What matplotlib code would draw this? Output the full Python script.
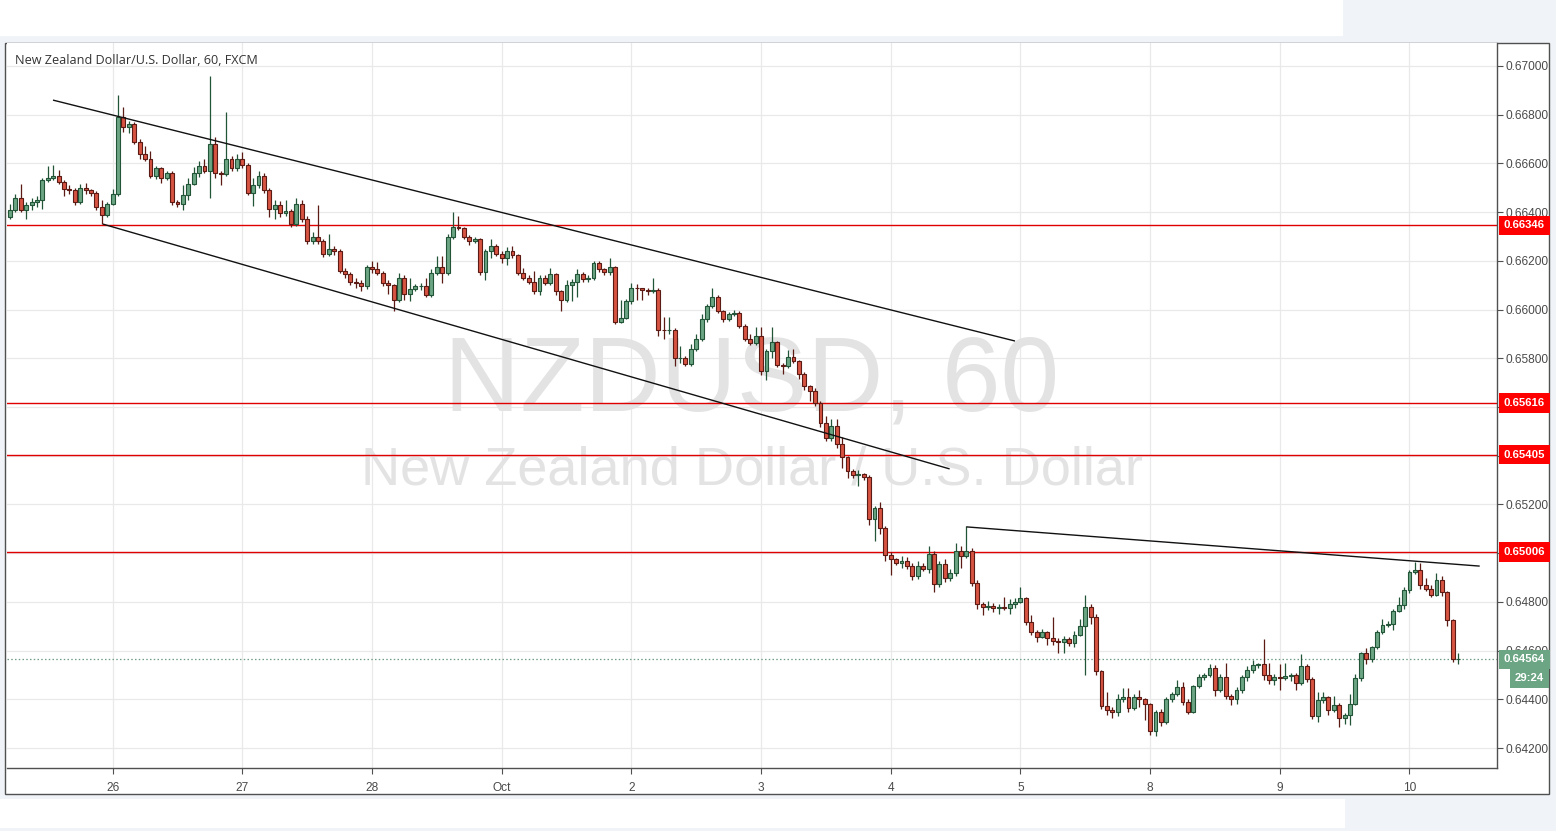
import matplotlib
matplotlib.use("Agg")
import matplotlib.pyplot as plt
import matplotlib.transforms as mtransforms
from matplotlib.patches import Rectangle

# ---------------- data (prices in pips, i.e. units of 0.0001) ----------------
opens = [
6638, 6641, 6646, 6641, 6643, 6644, 6645, 6653.4, 6654, 6655,
6652.5, 6649.6, 6649, 6644, 6650, 6649, 6648, 6642, 6639, 6643.5,
6647.5, 6679, 6675, 6676, 6669, 6664, 6662, 6655, 6658, 6654,
6656, 6644, 6643.5, 6647, 6651.6, 6656, 6659, 6657, 6668, 6656,
6655.5, 6662, 6658, 6662, 6659.5, 6648, 6651, 6655, 6649, 6641.5,
6643, 6639.5, 6640.5, 6635, 6643.5, 6637, 6628, 6630, 6628, 6623,
6625, 6624, 6616, 6614.6, 6611.5, 6611, 6609.5, 6617.4, 6616.5, 6615,
6611, 6610, 6604, 6613, 6606.5, 6608.5, 6609.5, 6609.5, 6606, 6615,
6617.4, 6615, 6630, 6634, 6633.3, 6630, 6628, 6629, 6615.6, 6624,
6626, 6623, 6621, 6624, 6622.5, 6615, 6613, 6611.5, 6607.5, 6613,
6611, 6614.7, 6607.5, 6604, 6610, 6611.5, 6614.7, 6612.5, 6613, 6619,
6616.6, 6615.6, 6617.4, 6595, 6596.5, 6603.4, 6609, 6608.7, 6608, 6607.7,
6608, 6591.8, 6591.5, 6591.8, 6580, 6580, 6577.7, 6584, 6588, 6596,
6601.3, 6605, 6599.3, 6596, 6598, 6598.5, 6593.4, 6588, 6586.3, 6589,
6574.7, 6583, 6586.6, 6577.4, 6577, 6580.4, 6578.8, 6573.7, 6568.8, 6566.4,
6561.6, 6553.4, 6547.3, 6552.3, 6545, 6539.5, 6533.6, 6532.2, 6532.5, 6531.2,
6514, 6518.5, 6510.3, 6499.3, 6497.5, 6496, 6497, 6494.8, 6490.7, 6494.8,
6493.4, 6499.7, 6487.4, 6495.6, 6489.7, 6492, 6500.7, 6499, 6500.7, 6487.7,
6479, 6478, 6478.5, 6477.5, 6478, 6477.4, 6479, 6480, 6481.5, 6471.7,
6467.6, 6465.8, 6467.6, 6465, 6463.8, 6463.4, 6464.7, 6463, 6466.5, 6470.2,
6477.8, 6473.7, 6451.5, 6437.4, 6435.8, 6434.7, 6440, 6441, 6436.5, 6440.8,
6440, 6438, 6427, 6434.7, 6430.6, 6440, 6442, 6445, 6439, 6435,
6445.3, 6449, 6449.8, 6453, 6443.7, 6449, 6441.3, 6440, 6444, 6449,
6452, 6454, 6454.4, 6450, 6448, 6449.3, 6448.6, 6449.5, 6450, 6446.6,
6453.7, 6448.2, 6433.2, 6439.8, 6440.8, 6435.7, 6437.7, 6432.3, 6433.6, 6438.1,
6448.6, 6458.9, 6456.4, 6461.3, 6467.7, 6470.4, 6470.9, 6476.2, 6478.6, 6485,
6492.3, 6493.2, 6486.8, 6485.5, 6483, 6489.1, 6484.1, 6472.5, 6456.4,
]
highs = [
6643.4, 6647.5, 6651.6, 6644, 6646, 6646.5, 6654, 6659, 6659.5, 6657.5,
6653, 6651, 6650, 6651.6, 6652, 6649.5, 6648.5, 6645, 6644, 6649.5,
6688, 6683, 6677.5, 6677, 6670, 6667, 6665, 6659, 6658.5, 6657,
6657, 6645, 6651, 6654, 6658.5, 6661, 6662, 6696, 6671, 6657,
6681, 6663, 6664, 6664.5, 6660, 6654, 6657, 6656, 6650, 6645,
6644.5, 6645, 6641.5, 6646, 6645, 6638.5, 6632, 6643, 6629, 6631,
6626, 6625, 6617, 6615.5, 6613, 6612, 6618.5, 6620, 6619.5, 6616,
6612, 6610.5, 6615, 6614, 6613, 6610.5, 6611, 6613, 6616.5, 6622,
6622, 6631, 6640, 6638.5, 6634, 6630.5, 6630, 6629.5, 6625, 6629,
6627, 6624, 6625.5, 6626, 6623, 6617, 6614, 6616, 6614, 6614,
6617, 6615, 6608, 6612, 6612.5, 6616.5, 6615.5, 6614, 6620, 6620,
6617, 6621, 6618, 6604, 6604.5, 6611, 6610.5, 6609, 6609, 6613,
6609, 6597, 6597, 6592.5, 6585, 6581, 6586, 6590, 6598, 6602.5,
6609, 6606, 6600, 6599, 6600, 6599.5, 6594, 6590, 6593, 6593,
6584, 6593, 6587, 6578, 6583.5, 6584, 6579.5, 6574.5, 6569, 6568,
6562.5, 6556.5, 6555, 6555, 6547.5, 6540, 6534.5, 6534, 6533, 6532,
6519.5, 6521, 6511, 6500.5, 6498, 6499, 6498.5, 6496, 6497, 6496,
6503, 6501, 6497, 6497.5, 6493.5, 6504, 6503, 6511, 6502, 6489,
6480, 6480.5, 6479.5, 6479, 6482, 6481, 6481.5, 6486, 6482, 6474.5,
6468.5, 6469, 6468, 6474, 6465, 6466, 6465.5, 6468, 6473, 6483,
6479, 6475, 6452, 6443, 6437, 6442, 6444.5, 6444.5, 6442, 6444,
6440.5, 6438.5, 6435.5, 6436, 6441, 6443, 6448, 6447, 6440, 6446,
6450.5, 6451, 6454.5, 6454, 6450.5, 6455, 6442, 6445, 6450, 6453.5,
6456, 6455, 6464.6, 6455, 6450.5, 6454.5, 6455, 6451, 6451, 6458.5,
6454.5, 6449, 6443, 6443, 6441.5, 6441.5, 6438.5, 6434.5, 6442, 6450.5,
6459.5, 6461, 6462, 6468.5, 6473, 6472, 6477, 6482, 6486, 6493,
6496.4, 6496, 6490, 6487, 6492, 6490.5, 6484.5, 6473, 6459,
]
lows = [
6637, 6640, 6640, 6637, 6641, 6642, 6641.5, 6652.5, 6653, 6651.5,
6646.5, 6647.5, 6643, 6643.5, 6647.5, 6646.5, 6641, 6635, 6638, 6643,
6646.5, 6673, 6672.5, 6668, 6662, 6661, 6654, 6653.5, 6652, 6653,
6643, 6642, 6641, 6645, 6651, 6654.5, 6656, 6646, 6654, 6651,
6655, 6657, 6657, 6658, 6647, 6642.5, 6650, 6648, 6638, 6637,
6638, 6638.5, 6634, 6634.5, 6636, 6627, 6627, 6627, 6621.5, 6622,
6622.5, 6615, 6613, 6610, 6609, 6607.5, 6608.5, 6615, 6614, 6609.5,
6606.5, 6599.6, 6603, 6604, 6603.5, 6607.5, 6608, 6605, 6605, 6614,
6611, 6614, 6629, 6632.5, 6629, 6626.5, 6627.5, 6614, 6612, 6621,
6622, 6619, 6618.5, 6621, 6614, 6612, 6610.5, 6606.5, 6606, 6610,
6610, 6606, 6599.6, 6603, 6603.5, 6605, 6611.5, 6611.5, 6612, 6615.5,
6614, 6614, 6594, 6594.5, 6596, 6602.5, 6604, 6604, 6606, 6607,
6589, 6588, 6590, 6577, 6578, 6577, 6577, 6583, 6587, 6595,
6600.5, 6598.5, 6595, 6595.5, 6597.5, 6592.5, 6587, 6585.5, 6585.5, 6573,
6571, 6580, 6576.5, 6573.5, 6576, 6578, 6571.5, 6567, 6562.5, 6560.5,
6552, 6546, 6546, 6543, 6535, 6531, 6531, 6527.5, 6530, 6511.5,
6505, 6508, 6497, 6491, 6495, 6494, 6493.5, 6489, 6489.5, 6492.5,
6492, 6484, 6486, 6488, 6488.5, 6490.5, 6494, 6498, 6486.5, 6477,
6474.5, 6476.5, 6476, 6475, 6476.5, 6475, 6477.5, 6479.5, 6470.5, 6466.5,
6463.5, 6465, 6462.5, 6462.5, 6459, 6459, 6462, 6461.5, 6466, 6450,
6471, 6450, 6436, 6433.5, 6432.5, 6433, 6439, 6435, 6435.5, 6437,
6431.5, 6425.5, 6425, 6429, 6430, 6439, 6441.5, 6437.5, 6434, 6434.5,
6444.5, 6448, 6449, 6441.5, 6443, 6440, 6437.5, 6438, 6442.5, 6447.5,
6451, 6453, 6448, 6446.5, 6446, 6444, 6448, 6447.5, 6444, 6446,
6447, 6432, 6430.5, 6438.5, 6433.5, 6435, 6428.5, 6430, 6429.5, 6437.5,
6447.5, 6454.5, 6455.5, 6460.5, 6467, 6469.5, 6468.5, 6476, 6477, 6483.5,
6491.5, 6485.5, 6484.5, 6482, 6482.5, 6482.5, 6470, 6455.5, 6454.5,
]
closes = [
6641, 6646, 6641, 6643, 6644, 6645, 6653.4, 6654, 6655, 6652.5,
6649.6, 6649, 6644, 6650, 6649, 6648, 6642, 6639, 6643.5, 6647.5,
6679, 6675, 6676, 6669, 6664, 6662, 6655, 6658, 6654, 6656,
6644, 6643.5, 6647, 6651.6, 6656, 6659, 6657, 6668, 6656, 6655.5,
6662, 6658, 6662, 6659.5, 6648, 6651, 6655, 6649, 6641.5, 6643,
6639.5, 6640.5, 6635, 6643.5, 6637, 6628, 6630, 6628, 6623, 6625,
6624, 6616, 6614.6, 6611.5, 6611, 6609.5, 6617.4, 6616.5, 6615, 6611,
6610, 6604, 6613, 6606.5, 6608.5, 6609.5, 6609.5, 6606, 6615, 6617.4,
6615, 6630, 6634, 6633.3, 6630, 6628, 6629, 6615.6, 6624, 6626,
6623, 6621, 6624, 6622.5, 6615, 6613, 6611.5, 6607.5, 6613, 6611,
6614.7, 6607.5, 6604, 6610, 6611.5, 6614.7, 6612.5, 6613, 6619, 6616.6,
6615.6, 6617.4, 6595, 6596.5, 6603.4, 6609, 6608.7, 6608, 6607.7, 6608,
6591.8, 6591.5, 6591.8, 6580, 6580, 6577.7, 6584, 6588, 6596, 6601.3,
6605, 6599.3, 6596, 6598, 6598.5, 6593.4, 6588, 6586.3, 6589, 6574.7,
6583, 6586.6, 6577.4, 6577, 6580.4, 6578.8, 6573.7, 6568.8, 6566.4, 6561.6,
6553.4, 6547.3, 6552.3, 6545, 6539.5, 6533.6, 6532.2, 6532.5, 6531.2, 6514,
6518.5, 6510.3, 6499.3, 6497.5, 6496, 6497, 6494.8, 6490.7, 6494.8, 6493.4,
6499.7, 6487.4, 6495.6, 6489.7, 6492, 6500.7, 6499, 6500.7, 6487.7, 6479,
6478, 6478.5, 6477.5, 6478, 6477.4, 6479, 6480, 6481.5, 6471.7, 6467.6,
6465.8, 6467.6, 6465, 6463.8, 6463.4, 6464.7, 6463, 6466.5, 6470.2, 6477.8,
6473.7, 6451.5, 6437.4, 6435.8, 6434.7, 6440, 6441, 6436.5, 6440.8, 6440,
6438, 6427, 6434.7, 6430.6, 6440, 6442, 6445, 6439, 6435, 6445.3,
6449, 6449.8, 6453, 6443.7, 6449, 6441.3, 6440, 6444, 6449, 6452,
6454, 6454.4, 6450, 6448, 6449.3, 6448.6, 6449.5, 6450, 6446.6, 6453.7,
6448.2, 6433.2, 6439.8, 6440.8, 6435.7, 6437.7, 6432.3, 6433.6, 6438.1, 6448.6,
6458.9, 6456.4, 6461.3, 6467.7, 6470.4, 6470.9, 6476.2, 6478.6, 6485, 6492.3,
6493.2, 6486.8, 6485.5, 6483, 6489.1, 6484.1, 6472.5, 6456.4, 6456.4,
]

day_labels = ['26', '27', '28', 'Oct', '2', '3', '4', '5', '8', '9', '10']
day_index = [19, 43, 67, 91, 115, 139, 163, 187, 211, 235, 259]
price_ticks = [0.642, 0.644, 0.646, 0.648, 0.650, 0.652, 0.654, 0.656,
               0.658, 0.660, 0.662, 0.664, 0.666, 0.668, 0.670]
levels = [0.66346, 0.65616, 0.65405, 0.65006]
last_price = 0.64564
countdown = '29:24'
trend_lines = [
    ((7.96, 0.66860), (186.0, 0.65871)),
    ((17.2, 0.66351), (173.9, 0.65346)),
    ((177.0, 0.65108), (272.0, 0.64947)),
]
title = 'New Zealand Dollar/U.S. Dollar, 60, FXCM'
wm_symbol = 'NZDUSD, 60'
wm_name = 'New Zealand Dollar / U.S. Dollar'

# ---------------- figure ----------------
W, H = 1556, 831
fig = plt.figure(figsize=(W / 100, H / 100), dpi=100)
fig.patch.set_facecolor('#f0f3f7')

def fx(px):
    return px / W

def fy(py):
    return 1 - py / H

# screenshot framing
fig.add_artist(Rectangle((0, fy(36)), fx(1343), 36 / H, transform=fig.transFigure,
                         fc='white', ec='none', zorder=0))
fig.add_artist(Rectangle((fx(5), fy(794)), fx(1549 - 5), (794 - 43) / H,
                         transform=fig.transFigure, fc='white', ec='#505050',
                         lw=1.0, zorder=0))
fig.add_artist(Rectangle((0, fy(828)), fx(1345), (828 - 799) / H,
                         transform=fig.transFigure, fc='white', ec='none', zorder=0))

AX_L, AX_R, AX_T, AX_B = 7, 1497, 43, 768
ax = fig.add_axes([fx(AX_L), fy(AX_B), fx(AX_R - AX_L), (AX_B - AX_T) / H])
ax.set_facecolor('white')

def ax_x(px):
    return (px - AX_L) / (AX_R - AX_L)

def ax_y(py):
    return (AX_B - py) / (AX_B - AX_T)

n = len(closes)
xs = list(range(n))
o = [v / 10000 for v in opens]
h = [v / 10000 for v in highs]
l = [v / 10000 for v in lows]
c = [v / 10000 for v in closes]

up_fill, up_edge = '#6ba583', '#225437'
dn_fill, dn_edge = '#d75442', '#5b1a13'
fills = [up_fill if c[i] >= o[i] else dn_fill for i in xs]
edges = [up_edge if c[i] >= o[i] else dn_edge for i in xs]
bottoms = [min(o[i], c[i]) for i in xs]
heights = [max(abs(c[i] - o[i]), 0.000006) for i in xs]

ax.vlines(xs, l, h, colors=edges, lw=0.9, zorder=3)
ax.bar(xs, heights, bottom=bottoms, width=0.72, color=fills, edgecolor=edges,
       linewidth=0.8, zorder=4)

# horizontal levels
for lv in levels:
    ax.axhline(lv, color='#e00000', lw=1.0, zorder=2)

# trend lines
for (x0, y0), (x1, y1) in trend_lines:
    ax.plot([x0, x1], [y0, y1], color='#111111', lw=1.0, zorder=5,
            solid_capstyle='butt')

# last price dotted line
ax.axhline(last_price, color='#6f9e84', lw=0.9, ls=(0, (1.2, 1.8)), zorder=2)

# watermarks
ax.text(0.5, 0.531, wm_symbol, transform=ax.transAxes, ha='center', va='center',
        fontsize=76, color='#e3e3e3', family='Liberation Sans', zorder=1)
ax.text(0.5, 0.411, wm_name, transform=ax.transAxes, ha='center', va='center',
        fontsize=39, color='#e3e3e3', family='Liberation Sans', zorder=1)

# title
ax.text(ax_x(15), ax_y(60), title, transform=ax.transAxes, ha='left',
        va='center', fontsize=9.1, color='#333333', family='Open Sans', zorder=6)

# limits
ax.set_xlim(-0.55, 275.2)
ax.set_ylim(0.641182, 0.670944)

# axes styling
for s in ['left', 'top']:
    ax.spines[s].set_visible(False)
for s in ['right', 'bottom']:
    ax.spines[s].set_color('#505050')
    ax.spines[s].set_linewidth(1.0)

ax.yaxis.tick_right()
ax.set_yticks(price_ticks)
ax.set_yticklabels(['%.5f' % v for v in price_ticks])
ax.set_xticks(day_index)
ax.set_xticklabels(day_labels)
ax.tick_params(axis='y', direction='out', length=4, width=0.8, color='#505050',
               labelsize=8.6, labelcolor='#4a4a4a', pad=2)
ax.tick_params(axis='x', direction='out', length=4, width=0.8, color='#505050',
               labelsize=8.6, labelcolor='#4a4a4a', pad=6)
for lab in ax.get_xticklabels() + ax.get_yticklabels():
    lab.set_family('Liberation Sans')

ax.grid(True, color='#e9e9e9', lw=0.9, zorder=0)
ax.set_axisbelow(True)

# right-axis price labels
trans = mtransforms.blended_transform_factory(ax.transAxes, ax.transData)
box_kw = dict(boxstyle='square,pad=0.42', ec='none')
for lv in levels:
    ax.text(ax_x(1504), lv, '%.5f' % lv, transform=trans, ha='left', va='center',
            fontsize=8.2, fontweight='bold', color='white', family='Liberation Sans',
            bbox=dict(fc='#ff0000', **box_kw), clip_on=False, zorder=10)
ax.text(ax_x(1504), last_price, '%.5f' % last_price, transform=trans, ha='left',
        va='center', fontsize=8.2, fontweight='bold', color='white',
        family='Liberation Sans', bbox=dict(fc='#6ba583', **box_kw),
        clip_on=False, zorder=10)
ax.text(ax_x(1544), last_price - 0.00078, countdown, transform=trans, ha='right',
        va='center', fontsize=8.2, fontweight='bold', color='white',
        family='Liberation Sans', bbox=dict(fc='#6ba583', **box_kw),
        clip_on=False, zorder=10)

fig.savefig('out.png', dpi=100, facecolor=fig.get_facecolor())
